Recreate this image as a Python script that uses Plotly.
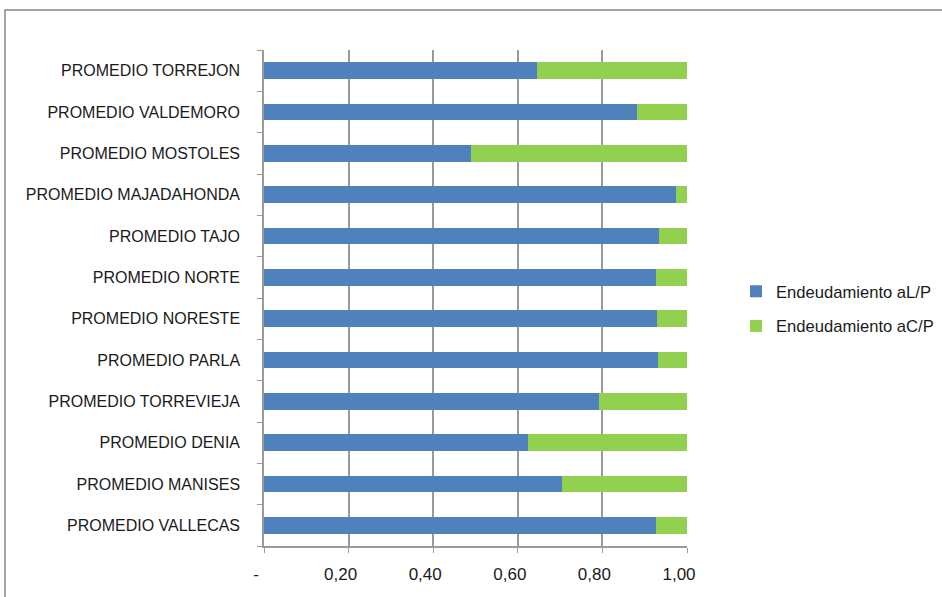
import plotly.graph_objects as go

categories = [
    "PROMEDIO VALLECAS", "PROMEDIO MANISES", "PROMEDIO DENIA", "PROMEDIO TORREVIEJA",
    "PROMEDIO PARLA", "PROMEDIO NORESTE", "PROMEDIO NORTE", "PROMEDIO TAJO",
    "PROMEDIO MAJADAHONDA", "PROMEDIO MOSTOLES", "PROMEDIO VALDEMORO", "PROMEDIO TORREJON",
]
endeud_lp = [0.927, 0.704, 0.624, 0.792, 0.931, 0.929, 0.927, 0.934, 0.974, 0.489, 0.882, 0.645]
endeud_cp = [0.073, 0.296, 0.376, 0.208, 0.069, 0.071, 0.073, 0.066, 0.026, 0.511, 0.118, 0.355]
tick_vals = [0, 0.2, 0.4, 0.6, 0.8, 1.0]
tick_text = ["-", "0,20", "0,40", "0,60", "0,80", "1,00"]

W, H = 942, 597
# plot area in page pixels: x 264..687, y 50..546
ML = 264
MT = 50
MR = W - 687
MB = H - 546
FONT = "Liberation Sans"

fig = go.Figure()
fig.add_trace(go.Bar(
    y=categories, x=endeud_lp, orientation="h", name="Endeudamiento aL/P",
    marker=dict(color="#4F81BD", line=dict(width=0)), legendgroup="a",
))
fig.add_trace(go.Bar(
    y=categories, x=endeud_cp, orientation="h", name="Endeudamiento aC/P",
    marker=dict(color="#92D050", line=dict(width=0)), legendgroup="b",
))

pw = W - ML - MR
ph = H - MT - MB
def px(page_x):
    return (page_x - ML) / pw
def py(page_y):
    return (H - MB - page_y) / ph

# outer chart border (left + top visible)
fig.add_shape(type="path", xref="paper", yref="paper",
              path=f"M {px(5)},{py(620)} L {px(5)},{py(10)} L {px(950)},{py(10)}",
              line=dict(color="#878787", width=1.5), layer="above")

fig.update_layout(
    width=W, height=H,
    margin=dict(l=ML, r=MR, t=MT, b=MB, autoexpand=False),
    paper_bgcolor="white", plot_bgcolor="white",
    barmode="stack", bargap=0.6,
    font=dict(family=FONT, size=16, color="#1a1a1a"),
    showlegend=True,
    legend=dict(
        x=px(736), y=py(309), xanchor="left", yanchor="middle",
        traceorder="grouped", tracegroupgap=10,
        font=dict(family=FONT, size=16.6, color="#1a1a1a"),
        itemwidth=30,
    ),
    xaxis=dict(
        range=[0, 1.0], tickvals=tick_vals, ticktext=tick_text,
        showgrid=True, gridcolor="#9a9a9a", gridwidth=1.5,
        showline=True, linecolor="#9a9a9a", linewidth=1.5,
        ticks="outside", ticklen=5, tickcolor="#9a9a9a",
        zeroline=False, ticklabelstandoff=7, ticklabelshift=-8,
        tickfont=dict(family=FONT, size=17, color="#1a1a1a"),
    ),
    yaxis=dict(
        type="category", categoryorder="array", categoryarray=categories,
        showline=True, linecolor="#9a9a9a", linewidth=1.5,
        ticks="outside", ticklen=5, tickcolor="#9a9a9a", tickson="boundaries",
        showgrid=False, ticklabelstandoff=19,
        tickfont=dict(family=FONT, size=16, color="#1a1a1a"),
    ),
)

fig.write_html("out.html", config={"displayModeBar": False},
               post_script="document.body.style.margin='0';")
